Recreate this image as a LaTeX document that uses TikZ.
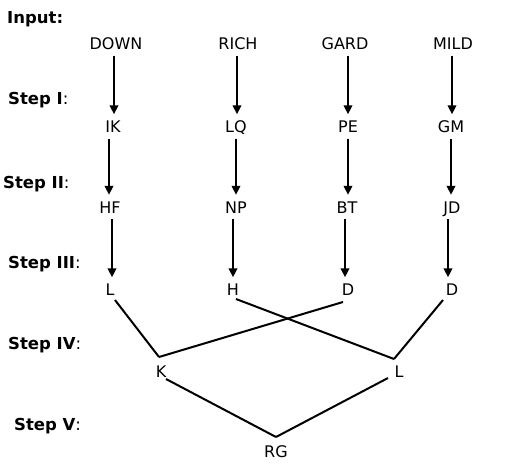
\documentclass[tikz,border=0pt]{standalone}
\usepackage{fontspec}
\setmainfont{DejaVu Sans}
\usetikzlibrary{arrows.meta,calc}
\begin{document}
\begin{tikzpicture}[x=1pt,y=-1pt,
  lbl/.style={inner sep=0pt,text height=11pt,text depth=0pt,font=\fontsize{16}{19}\selectfont},
  steplbl/.style={inner sep=0pt,text height=12pt,text depth=0pt,anchor=west,font=\fontsize{16.5}{19}\selectfont},
  arr/.style={line width=2pt,-{Triangle[width=8.5pt,length=9pt]},shorten <=6pt,shorten >=7pt},
  conn/.style={line width=2pt}]
\useasboundingbox[fill=white] (0,0) rectangle (520,474);
% step labels
\node[steplbl] (sin) at (7,17) {\textbf{Input:}};
\node[steplbl] (s1) at (8,98.5) {\textbf{Step I}:};
\node[steplbl] (s2) at (3,182) {\textbf{Step II}:};
\node[steplbl] (s3) at (8,262) {\textbf{Step III}:};
\node[steplbl] (s4) at (8,343.5) {\textbf{Step IV}:};
\node[steplbl] (s5) at (14,424.5) {\textbf{Step V}:};
% row 0
\node[lbl] (down) at (116,44) {DOWN};
\node[lbl] (rich) at (238,44) {RICH};
\node[lbl] (gard) at (345,44) {GARD};
\node[lbl] (mild) at (453,44) {MILD};
% row 1
\node[lbl] (ik) at (113,127) {IK};
\node[lbl] (lq) at (236,127) {LQ};
\node[lbl] (pe) at (348,127) {PE};
\node[lbl] (gm) at (451,127) {GM};
% row 2
\node[lbl] (hf) at (110,207.5) {HF};
\node[lbl] (np) at (236,207.5) {NP};
\node[lbl] (bt) at (347,207.5) {BT};
\node[lbl] (jd) at (452,207.5) {JD};
% row 3
\node[lbl] (l3) at (110,290) {L};
\node[lbl] (h3) at (233,290) {H};
\node[lbl] (da) at (348,290) {D};
\node[lbl] (db) at (452,290) {D};
% row 4
\node[lbl] (k4) at (161,372) {K};
\node[lbl] (l4) at (399,372) {L};
% row 5
\node[lbl] (rg) at (276,452) {RG};
% arrows
\draw[arr] ([xshift=-2pt]down.south) -- ([xshift=-2pt]down.south |- ik.north);
\draw[arr] ([xshift=-1pt]rich.south) -- ([xshift=-1pt]rich.south |- lq.north);
\draw[arr] ([xshift=3pt]gard.south) -- ([xshift=3pt]gard.south |- pe.north);
\draw[arr] ([xshift=-1pt]mild.south) -- ([xshift=-1pt]mild.south |- gm.north);
\draw[arr] ([xshift=-4pt]ik.south) -- ([xshift=-4pt]ik.south |- hf.north);
\draw[arr] (lq.south) -- (lq.south |- np.north);
\draw[arr] (pe.south) -- (pe.south |- bt.north);
\draw[arr] (gm.south) -- (gm.south |- jd.north);
\draw[arr] ([xshift=2pt]hf.south) -- ([xshift=2pt]hf.south |- l3.north);
\draw[arr] ([xshift=-3pt]np.south) -- ([xshift=-3pt]np.south |- h3.north);
\draw[arr] ([xshift=-2pt]bt.south) -- ([xshift=-2pt]bt.south |- da.north);
\draw[arr] ([xshift=-4pt]jd.south) -- ([xshift=-4pt]jd.south |- db.north);
% connectors
\draw[conn] ($(l3)+(5,10)$) -- ($(k4)+(-2,-15)$);
\draw[conn] ($(da)+(-5,12)$) -- ($(k4)+(-2,-15)$);
\draw[conn] ($(h3)+(3,9)$) -- ($(l4)+(-5,-13)$);
\draw[conn] ($(db)+(-9,10)$) -- ($(l4)+(-5,-13)$);
\draw[conn] ($(k4)+(5,7)$) -- ($(rg)+(0,-15)$);
\draw[conn] ($(l4)+(-11,6)$) -- ($(rg)+(0,-15)$);
\end{tikzpicture}
\end{document}
